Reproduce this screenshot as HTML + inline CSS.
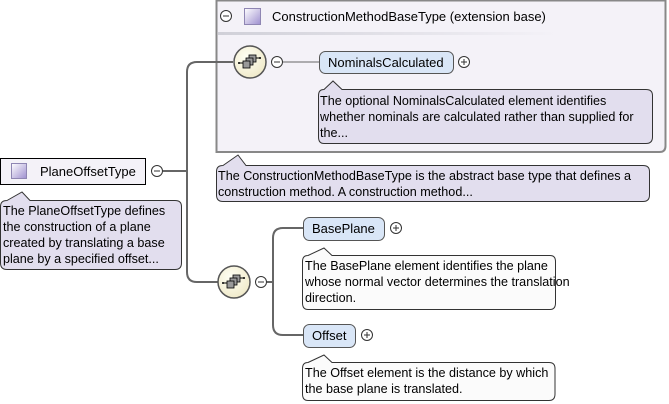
<!DOCTYPE html>
<html><head><meta charset="utf-8"><style>
html,body{margin:0;padding:0;background:#fff;width:669px;height:404px;overflow:hidden}
svg text{font-family:"Liberation Sans",sans-serif;font-size:12.6px;fill:#000}
svg text.t{font-size:13px}
</style></head><body>
<svg width="669" height="404" viewBox="0 0 669 404" xmlns="http://www.w3.org/2000/svg">
<defs>
<linearGradient id="sq" x1="0" y1="0" x2="1" y2="1"><stop offset="0" stop-color="#ffffff"/><stop offset="1" stop-color="#9e8fcf"/></linearGradient>
<linearGradient id="sep" x1="0" y1="0" x2="1" y2="0"><stop offset="0" stop-color="#d0d0d8"/><stop offset="1" stop-color="#f4f2f8"/></linearGradient>
<radialGradient id="seq" cx="0.4" cy="0.35" r="0.7"><stop offset="0" stop-color="#fffff4"/><stop offset="1" stop-color="#efe9c8"/></radialGradient>
<g id="seqicon">
<circle r="16" fill="url(#seq)" stroke="#555" stroke-width="1.5"/>
<line x1="-11" y1="1" x2="-7" y2="1" stroke="#000"/>
<rect x="-1" y="-7" width="7" height="7" fill="#999" stroke="#000" stroke-width="0.8"/>
<rect x="-4" y="-4" width="7" height="7" fill="#999" stroke="#000" stroke-width="0.8"/>
<rect x="-7" y="-1" width="7" height="7" fill="#999" stroke="#000" stroke-width="0.8"/>
<line x1="6" y1="-4" x2="10" y2="-4" stroke="#000"/>
<circle cx="-11" cy="1" r="1" fill="#000"/>
<circle cx="10" cy="-4" r="1" fill="#000"/>
</g>
<g id="minus"><circle r="5.5" fill="#fff" stroke="#333"/><line x1="-3" y1="0" x2="3" y2="0" stroke="#333"/></g>
<g id="plus"><circle r="5.5" fill="#fff" stroke="#333"/><line x1="-3" y1="0" x2="3" y2="0" stroke="#333"/><line x1="0" y1="-3" x2="0" y2="3" stroke="#333"/></g>
</defs>

<path d="M216.5,0.5 H665.5 V146 Q665.5,152 659.5,152 H216.5 Z" fill="#f4f2f8" stroke="#888" stroke-width="2"/>
<rect x="218" y="32" width="340" height="3" fill="url(#sep)"/>
<use href="#minus" x="226" y="16"/>
<rect x="244.5" y="8.5" width="16" height="16" fill="url(#sq)" stroke="#8f86b3"/>
<text class="t" x="272" y="21">ConstructionMethodBaseType (extension base)</text>

<path d="M163,171 H187 M233,62 H197 Q187,62 187,72 V272 Q187,282 197,282 H218" fill="none" stroke="#666" stroke-width="2"/>
<path d="M283,62 H319" fill="none" stroke="#666" stroke-width="1"/>
<path d="M267,282 H273 M303,228 H283 Q273,228 273,238 V325 Q273,335 283,335 H303" fill="none" stroke="#666" stroke-width="2"/>

<use href="#seqicon" x="250" y="62"/>
<use href="#minus" x="277" y="62"/>
<use href="#seqicon" x="234" y="282"/>
<use href="#minus" x="261" y="282"/>

<rect x="319.5" y="51.5" width="134" height="22" rx="6" fill="#d9e6f7" stroke="#555"/>
<text class="t" x="328" y="67">NominalsCalculated</text>
<use href="#plus" x="464" y="62"/>
<path d="M324,89.5 L333,81 L342,89.5 H646 Q652.5,89.5 652.5,95.5 V137 Q652.5,143.5 646,143.5 H324 Q318.5,143.5 318.5,137 V95.5 Q318.5,89.5 324,89.5 Z" fill="#e2deee" stroke="#333"/>
<text x="320" y="105">The optional NominalsCalculated element identifies</text>
<text x="320" y="121">whether nominals are calculated rather than supplied for</text>
<text x="320" y="137">the...</text>

<path d="M223,165.5 L238,155 L246,165.5 H643 Q649.5,165.5 649.5,171.5 V195 Q649.5,201.5 643,201.5 H223 Q216.5,201.5 216.5,195 V171.5 Q216.5,165.5 223,165.5 Z" fill="#e2deee" stroke="#333"/>
<text x="218" y="180">The ConstructionMethodBaseType is the abstract base type that defines a</text>
<text x="218" y="196">construction method. A construction method...</text>

<rect x="0.5" y="158.5" width="145" height="26" fill="#f4f2f8" stroke="#000"/>
<rect x="11.5" y="163.5" width="15" height="15" fill="url(#sq)" stroke="#8f86b3"/>
<text class="t" x="40" y="176">PlaneOffsetType</text>
<use href="#minus" x="157" y="171"/>
<path d="M7,200.5 L22,192 L30,200.5 H175 Q181.5,200.5 181.5,206.5 V263 Q181.5,269.5 175,269.5 H7 Q0.5,269.5 0.5,263 V206.5 Q0.5,200.5 7,200.5 Z" fill="#e2deee" stroke="#333"/>
<text x="3" y="215">The PlaneOffsetType defines</text>
<text x="3" y="231">the construction of a plane</text>
<text x="3" y="247">created by translating a base</text>
<text x="3" y="263">plane by a specified offset...</text>

<rect x="303.5" y="217.5" width="81" height="23" rx="6" fill="#d9e6f7" stroke="#555"/>
<text class="t" x="312" y="233">BasePlane</text>
<use href="#plus" x="396" y="228"/>
<path d="M308,255.5 L324,248 L332,255.5 H550 Q555.5,255.5 555.5,261.5 V303 Q555.5,309.5 550,309.5 H308 Q302.5,309.5 302.5,303 V261.5 Q302.5,255.5 308,255.5 Z" fill="#fbfbfb" stroke="#333"/>
<text x="305" y="270">The BasePlane element identifies the plane</text>
<text x="305" y="286">whose normal vector determines the translation</text>
<text x="305" y="302">direction.</text>

<rect x="303.5" y="324.5" width="52" height="23" rx="6" fill="#d9e6f7" stroke="#555"/>
<text class="t" x="312" y="340">Offset</text>
<use href="#plus" x="367" y="335"/>
<path d="M308,362.5 L324,355 L332,362.5 H549 Q555,362.5 555,368.5 V394 Q555,400.5 549,400.5 H308 Q302.5,400.5 302.5,394 V368.5 Q302.5,362.5 308,362.5 Z" fill="#fbfbfb" stroke="#333"/>
<text x="305" y="377">The Offset element is the distance by which</text>
<text x="305" y="393">the base plane is translated.</text>
</svg>
</body></html>
